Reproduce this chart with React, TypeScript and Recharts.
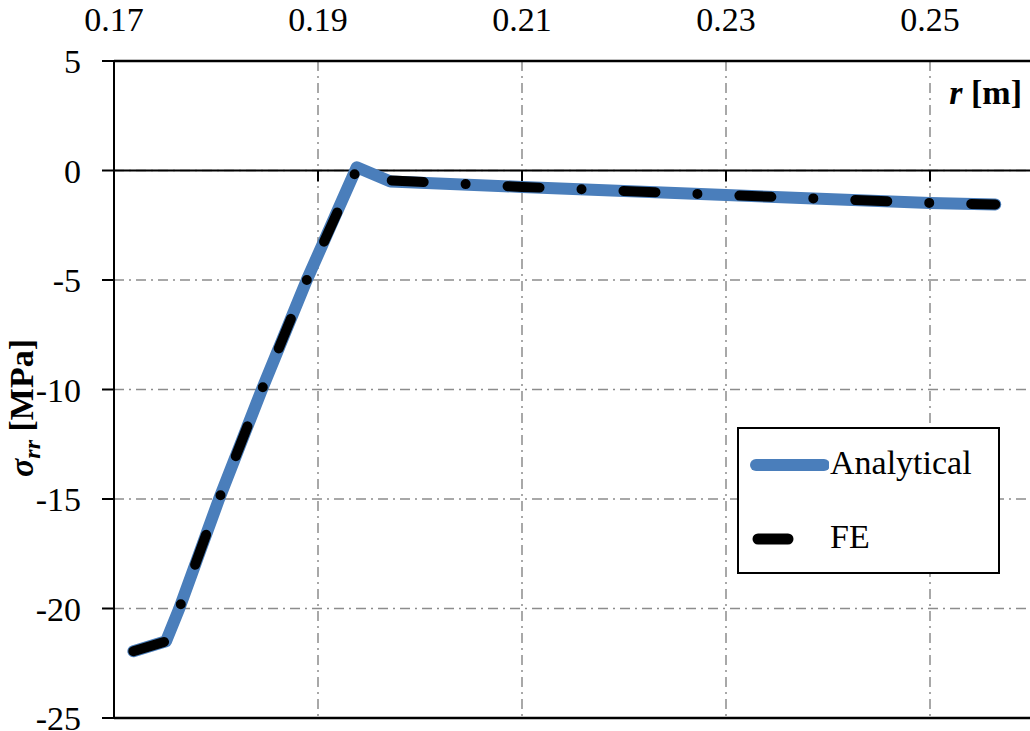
import {
  CartesianGrid,
  Legend,
  Line,
  LineChart,
  ReferenceLine,
  XAxis,
  YAxis,
} from "recharts"

// radius [m] and radial stress [MPa]
const analyticalR = [0.1719, 0.1751, 0.1764, 0.1803, 0.1845, 0.1889, 0.1938, 0.1971, 0.21, 0.23, 0.25, 0.2564]
const analyticalStress = [-21.95, -21.5, -20, -15, -10, -5, 0.15, -0.5, -0.75, -1.12, -1.48, -1.55]

const feR = [0.1719, 0.1751, 0.1764, 0.1803, 0.1845, 0.1889, 0.1938, 0.1971, 0.21, 0.23, 0.25, 0.2564]
const feStress = [-21.95, -21.5, -20, -15, -10, -5, 0.05, -0.45, -0.75, -1.12, -1.48, -1.55]

const xTicks = [0.17, 0.19, 0.21, 0.23, 0.25]
const yTicks = [-25, -20, -15, -10, -5, 0, 5]

const BLUE = "#4a7ebb"
const GRID = "#8c8c8c"
const FONT = "Liberation Serif, Tinos, Times New Roman, Times, DejaVu Serif, Noto Serif, serif"

const analyticalData = analyticalR.map((r, i) => ({ r, s: analyticalStress[i] }))
const feData = feR.map((r, i) => ({ r, s: feStress[i] }))

function renderLegend() {
  return (
    <div
      style={{
        boxSizing: "border-box",
        width: 263,
        height: 147,
        border: "2px solid #000",
        background: "#fff",
        fontFamily: FONT,
        fontSize: 34,
        color: "#000",
        position: "relative",
      }}
    >
      <svg width={90} height={147} style={{ position: "absolute", left: 0, top: 0 }}>
        <line x1={17} y1={36} x2={85} y2={36} stroke={BLUE} strokeWidth={12} strokeLinecap="round" />
        <line x1={19} y1={110} x2={49} y2={110} stroke="#000" strokeWidth={11} strokeLinecap="round" />
      </svg>
      <div style={{ position: "absolute", left: 91, top: 14, lineHeight: "40px" }}>Analytical</div>
      <div style={{ position: "absolute", left: 91, top: 88, lineHeight: "40px" }}>FE</div>
    </div>
  )
}

function renderYLabel() {
  return (
    <text
      x={-477}
      y={33}
      transform="rotate(-90)"
      fontFamily={FONT}
      fontSize={34}
      fontWeight="bold"
      fill="#000"
    >
      <tspan fontStyle="italic">σ</tspan>
      <tspan fontStyle="italic" fontSize={24} dy={7}>rr</tspan>
      <tspan dy={-7}> [MPa]</tspan>
    </text>
  )
}

function renderXLabel() {
  return (
    <text
      x={1022}
      y={104}
      textAnchor="end"
      fontFamily={FONT}
      fontSize={34}
      fontWeight="bold"
      fill="#000"
    >
      <tspan fontStyle="italic">r</tspan>
      <tspan> [m]</tspan>
    </text>
  )
}

export default function App() {
  return (
    <div
      style={{
        position: "absolute",
        left: 0,
        top: 0,
        width: 1030,
        height: 731,
        overflow: "hidden",
        background: "#fff",
        fontFamily: FONT,
      }}
    >
      <LineChart
        width={1034}
        height={731}
        margin={{ top: 0, right: 2, bottom: 13, left: 0 }}
        style={{ fontFamily: FONT }}
      >
        <CartesianGrid stroke={GRID} strokeWidth={1.5} strokeDasharray="10 5 2 5" />
        <XAxis
          type="number"
          dataKey="r"
          orientation="top"
          domain={[0.17, 0.26]}
          ticks={xTicks}
          interval={0}
          tickFormatter={(v: number) => v.toFixed(2)}
          allowDataOverflow
          height={61}
          axisLine={false}
          tickLine={false}
          tickSize={0}
          tickMargin={30}
          tick={{ fill: "#000", fontSize: 34, fontFamily: FONT }}
          label={{ content: renderXLabel }}
        />
        <YAxis
          type="number"
          dataKey="s"
          domain={[-25, 5]}
          ticks={yTicks}
          interval={0}
          allowDataOverflow
          width={114}
          axisLine={{ stroke: "#000", strokeWidth: 2 }}
          tickLine={{ stroke: "#000", strokeWidth: 2 }}
          tickSize={12}
          tickMargin={21}
          tick={{ fill: "#000", fontSize: 34, fontFamily: FONT }}
          label={{ content: renderYLabel }}
        />
        <ReferenceLine y={5} stroke="#000" strokeWidth={2.5} />
        <ReferenceLine y={-25} stroke="#000" strokeWidth={2.5} />
        <ReferenceLine y={0} stroke="#000" strokeWidth={2} />
        {xTicks.slice(1).map((t) => (
          <ReferenceLine
            key={t}
            segment={[
              { x: t, y: 0 },
              { x: t, y: -0.5 },
            ]}
            stroke="#000"
            strokeWidth={2}
          />
        ))}
        <Legend
          layout="vertical"
          align="center"
          verticalAlign="middle"
          content={renderLegend}
          wrapperStyle={{ left: 737, top: 427, width: 263, height: 147 }}
        />
        <Line
          name="Analytical"
          data={analyticalData}
          dataKey="s"
          type="linear"
          stroke={BLUE}
          strokeWidth={12}
          strokeLinecap="round"
          strokeLinejoin="round"
          dot={false}
          activeDot={false}
          isAnimationActive={false}
        />
        <Line
          name="FE"
          data={feData}
          dataKey="s"
          type="linear"
          stroke="#000"
          strokeWidth={10}
          strokeLinecap="round"
          strokeLinejoin="round"
          strokeDasharray="32 42 0 42"
          dot={false}
          activeDot={false}
          isAnimationActive={false}
        />
      </LineChart>
    </div>
  )
}
